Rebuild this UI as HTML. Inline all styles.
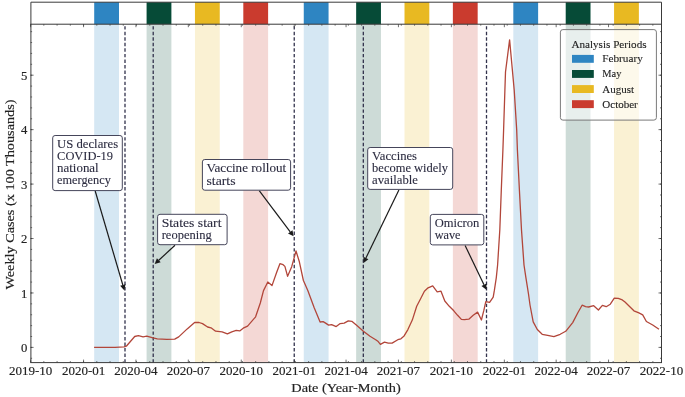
<!DOCTYPE html><html><head><meta charset="utf-8"><style>html,body{margin:0;padding:0;background:#fff;overflow:hidden}svg{display:block;will-change:transform}text{stroke-width:0.1px}text.t{stroke-width:0.16px}</style></head><body>
<svg width="685" height="397" viewBox="0 0 685 397">
<rect width="685" height="397" fill="#fff"/>
<rect x="94.20" y="24.2" width="24.8" height="338.40" fill="#d5e7f3"/>
<rect x="94.20" y="2.2" width="24.8" height="22.00" fill="#2e85c2"/>
<rect x="146.59" y="24.2" width="24.8" height="338.40" fill="#cddbd7"/>
<rect x="146.59" y="2.2" width="24.8" height="22.00" fill="#064b37"/>
<rect x="194.95" y="24.2" width="24.8" height="338.40" fill="#faf1d3"/>
<rect x="194.95" y="2.2" width="24.8" height="22.00" fill="#e8b922"/>
<rect x="243.31" y="24.2" width="24.8" height="338.40" fill="#f4d8d5"/>
<rect x="243.31" y="2.2" width="24.8" height="22.00" fill="#ca3b2e"/>
<rect x="303.76" y="24.2" width="24.8" height="338.40" fill="#d5e7f3"/>
<rect x="303.76" y="2.2" width="24.8" height="22.00" fill="#2e85c2"/>
<rect x="356.15" y="24.2" width="24.8" height="338.40" fill="#cddbd7"/>
<rect x="356.15" y="2.2" width="24.8" height="22.00" fill="#064b37"/>
<rect x="404.51" y="24.2" width="24.8" height="338.40" fill="#faf1d3"/>
<rect x="404.51" y="2.2" width="24.8" height="22.00" fill="#e8b922"/>
<rect x="452.87" y="24.2" width="24.8" height="338.40" fill="#f4d8d5"/>
<rect x="452.87" y="2.2" width="24.8" height="22.00" fill="#ca3b2e"/>
<rect x="513.32" y="24.2" width="24.8" height="338.40" fill="#d5e7f3"/>
<rect x="513.32" y="2.2" width="24.8" height="22.00" fill="#2e85c2"/>
<rect x="565.71" y="24.2" width="24.8" height="338.40" fill="#cddbd7"/>
<rect x="565.71" y="2.2" width="24.8" height="22.00" fill="#064b37"/>
<rect x="614.07" y="24.2" width="24.8" height="338.40" fill="#faf1d3"/>
<rect x="614.07" y="2.2" width="24.8" height="22.00" fill="#e8b922"/>
<line x1="125.00" y1="362.6" x2="125.00" y2="24.2" stroke="#32324c" stroke-width="1.3" stroke-dasharray="3.45 2.1"/>
<line x1="153.21" y1="362.6" x2="153.21" y2="24.2" stroke="#32324c" stroke-width="1.3" stroke-dasharray="3.45 2.1"/>
<line x1="294.24" y1="362.6" x2="294.24" y2="24.2" stroke="#32324c" stroke-width="1.3" stroke-dasharray="3.45 2.1"/>
<line x1="363.32" y1="362.6" x2="363.32" y2="24.2" stroke="#32324c" stroke-width="1.3" stroke-dasharray="3.45 2.1"/>
<line x1="486.51" y1="362.6" x2="486.51" y2="24.2" stroke="#32324c" stroke-width="1.3" stroke-dasharray="3.45 2.1"/>
<path d="M94.1 347.4 L115.0 347.3 L124.1 346.9 L126.3 346.2 L134.7 336.5 L138.4 335.6 L143.1 336.8 L146.8 336.1 L153.0 337.8 L157.3 338.9 L166.8 339.3 L174.7 339.1 L178.7 336.9 L187.2 328.9 L194.6 322.5 L199.1 322.5 L202.5 323.6 L207.6 327.0 L211.0 327.8 L215.6 331.2 L222.1 331.8 L227.4 333.9 L231.8 331.8 L236.2 330.4 L239.7 330.9 L243.2 328.2 L247.6 326.1 L255.6 316.8 L260.3 303.0 L263.5 290.6 L267.8 282.0 L272.0 285.6 L276.6 272.5 L279.9 263.7 L283.1 264.7 L284.9 266.4 L287.6 276.3 L291.7 266.7 L294.2 257.6 L296.0 251.0 L299.2 261.2 L303.4 280.5 L307.9 290.7 L314.3 307.9 L320.1 322.0 L323.1 321.6 L325.6 323.1 L328.6 325.1 L331.6 324.6 L336.2 326.6 L340.2 323.6 L344.2 323.1 L348.3 320.9 L351.8 321.3 L356.3 325.1 L363.4 331.2 L370.0 336.3 L375.7 339.7 L378.2 341.6 L380.4 344.3 L384.5 342.2 L388.3 343.2 L392.1 343.1 L397.8 339.7 L400.9 338.8 L404.1 335.9 L407.9 329.6 L412.3 320.1 L416.7 306.3 L420.6 298.7 L424.4 291.2 L428.1 287.8 L432.7 285.9 L437.2 291.9 L441.0 291.2 L444.8 301.0 L449.3 306.3 L453.8 310.8 L457.6 315.3 L461.4 319.4 L464.4 319.6 L468.8 319.2 L473.2 315.2 L477.6 312.1 L481.4 320.0 L483.9 310.2 L485.8 301.6 L489.6 302.4 L493.2 297.1 L494.4 290.2 L496.3 277.6 L497.6 265.0 L499.8 230.0 L501.3 190.0 L502.9 150.0 L503.6 130.0 L504.9 90.0 L505.5 72.0 L509.6 39.8 L514.2 90.0 L516.7 130.0 L517.4 150.0 L519.4 190.0 L521.5 230.0 L524.0 265.0 L525.9 277.6 L528.5 294.0 L530.0 305.0 L533.2 321.9 L537.3 329.5 L542.2 334.3 L547.7 335.4 L553.9 336.7 L560.2 334.3 L565.7 331.3 L572.7 322.6 L578.1 312.2 L582.1 305.2 L585.6 306.7 L588.6 307.0 L593.7 305.7 L598.4 310.0 L602.4 305.4 L606.2 306.7 L610.3 304.2 L614.3 298.1 L618.3 298.3 L622.3 299.9 L625.0 302.0 L628.8 305.7 L633.9 310.8 L638.9 312.9 L642.7 314.9 L646.4 321.5 L652.7 325.0 L659.0 329.3" fill="none" stroke="#b2463a" stroke-width="1.3" stroke-linejoin="round"/>
<path d="M30.60 362.6v-3M30.60 24.2v3M83.56 362.6v-3M83.56 24.2v3M135.94 362.6v-3M135.94 24.2v3M188.32 362.6v-3M188.32 24.2v3M241.28 362.6v-3M241.28 24.2v3M294.24 362.6v-3M294.24 24.2v3M346.05 362.6v-3M346.05 24.2v3M398.43 362.6v-3M398.43 24.2v3M451.39 362.6v-3M451.39 24.2v3M504.35 362.6v-3M504.35 24.2v3M556.16 362.6v-3M556.16 24.2v3M608.54 362.6v-3M608.54 24.2v3M661.50 362.6v-3M661.50 24.2v3M30.60 362.6v-1.5M30.60 24.2v1.5M43.84 362.6v-1.5M43.84 24.2v1.5M57.08 362.6v-1.5M57.08 24.2v1.5M70.32 362.6v-1.5M70.32 24.2v1.5M83.56 362.6v-1.5M83.56 24.2v1.5M96.80 362.6v-1.5M96.80 24.2v1.5M110.04 362.6v-1.5M110.04 24.2v1.5M123.28 362.6v-1.5M123.28 24.2v1.5M136.52 362.6v-1.5M136.52 24.2v1.5M149.76 362.6v-1.5M149.76 24.2v1.5M163.00 362.6v-1.5M163.00 24.2v1.5M176.24 362.6v-1.5M176.24 24.2v1.5M189.48 362.6v-1.5M189.48 24.2v1.5M202.72 362.6v-1.5M202.72 24.2v1.5M215.96 362.6v-1.5M215.96 24.2v1.5M229.20 362.6v-1.5M229.20 24.2v1.5M242.44 362.6v-1.5M242.44 24.2v1.5M255.67 362.6v-1.5M255.67 24.2v1.5M268.91 362.6v-1.5M268.91 24.2v1.5M282.15 362.6v-1.5M282.15 24.2v1.5M295.39 362.6v-1.5M295.39 24.2v1.5M308.63 362.6v-1.5M308.63 24.2v1.5M321.87 362.6v-1.5M321.87 24.2v1.5M335.11 362.6v-1.5M335.11 24.2v1.5M348.35 362.6v-1.5M348.35 24.2v1.5M361.59 362.6v-1.5M361.59 24.2v1.5M374.83 362.6v-1.5M374.83 24.2v1.5M388.07 362.6v-1.5M388.07 24.2v1.5M401.31 362.6v-1.5M401.31 24.2v1.5M414.55 362.6v-1.5M414.55 24.2v1.5M427.79 362.6v-1.5M427.79 24.2v1.5M441.03 362.6v-1.5M441.03 24.2v1.5M454.27 362.6v-1.5M454.27 24.2v1.5M467.51 362.6v-1.5M467.51 24.2v1.5M480.75 362.6v-1.5M480.75 24.2v1.5M493.99 362.6v-1.5M493.99 24.2v1.5M507.23 362.6v-1.5M507.23 24.2v1.5M520.47 362.6v-1.5M520.47 24.2v1.5M533.71 362.6v-1.5M533.71 24.2v1.5M546.95 362.6v-1.5M546.95 24.2v1.5M560.19 362.6v-1.5M560.19 24.2v1.5M573.43 362.6v-1.5M573.43 24.2v1.5M586.67 362.6v-1.5M586.67 24.2v1.5M599.91 362.6v-1.5M599.91 24.2v1.5M613.15 362.6v-1.5M613.15 24.2v1.5M626.39 362.6v-1.5M626.39 24.2v1.5M639.63 362.6v-1.5M639.63 24.2v1.5M652.87 362.6v-1.5M652.87 24.2v1.5M30.6 347.40h3M661.5 347.40h-3M30.6 292.96h3M661.5 292.96h-3M30.6 238.52h3M661.5 238.52h-3M30.6 184.08h3M661.5 184.08h-3M30.6 129.64h3M661.5 129.64h-3M30.6 75.20h3M661.5 75.20h-3M30.6 358.29h1.5M661.5 358.29h-1.5M30.6 347.40h1.5M661.5 347.40h-1.5M30.6 336.51h1.5M661.5 336.51h-1.5M30.6 325.62h1.5M661.5 325.62h-1.5M30.6 314.74h1.5M661.5 314.74h-1.5M30.6 303.85h1.5M661.5 303.85h-1.5M30.6 292.96h1.5M661.5 292.96h-1.5M30.6 282.07h1.5M661.5 282.07h-1.5M30.6 271.18h1.5M661.5 271.18h-1.5M30.6 260.30h1.5M661.5 260.30h-1.5M30.6 249.41h1.5M661.5 249.41h-1.5M30.6 238.52h1.5M661.5 238.52h-1.5M30.6 227.63h1.5M661.5 227.63h-1.5M30.6 216.74h1.5M661.5 216.74h-1.5M30.6 205.86h1.5M661.5 205.86h-1.5M30.6 194.97h1.5M661.5 194.97h-1.5M30.6 184.08h1.5M661.5 184.08h-1.5M30.6 173.19h1.5M661.5 173.19h-1.5M30.6 162.30h1.5M661.5 162.30h-1.5M30.6 151.42h1.5M661.5 151.42h-1.5M30.6 140.53h1.5M661.5 140.53h-1.5M30.6 129.64h1.5M661.5 129.64h-1.5M30.6 118.75h1.5M661.5 118.75h-1.5M30.6 107.86h1.5M661.5 107.86h-1.5M30.6 96.98h1.5M661.5 96.98h-1.5M30.6 86.09h1.5M661.5 86.09h-1.5M30.6 75.20h1.5M661.5 75.20h-1.5M30.6 64.31h1.5M661.5 64.31h-1.5M30.6 53.42h1.5M661.5 53.42h-1.5M30.6 42.54h1.5M661.5 42.54h-1.5M30.6 31.65h1.5M661.5 31.65h-1.5" stroke="#333" stroke-width="0.7" fill="none"/>
<rect x="30.9" y="24.2" width="630.60" height="338.40" fill="none" stroke="#3a3a3a" stroke-width="1.0"/>
<path d="M30.9 24.2V2.2H661.5V24.2" fill="none" stroke="#3a3a3a" stroke-width="1.0"/>
<line x1="95.2" y1="191.0" x2="122.82" y2="285.03" stroke="#1a1a1a" stroke-width="1.2"/>
<path d="M124.40 290.40L120.14 285.82L125.51 284.24Z" fill="#1a1a1a"/>
<line x1="175.0" y1="245.2" x2="158.80" y2="260.28" stroke="#1a1a1a" stroke-width="1.2"/>
<path d="M154.70 264.10L156.89 258.23L160.71 262.33Z" fill="#1a1a1a"/>
<line x1="259.2" y1="190.6" x2="290.23" y2="231.83" stroke="#1a1a1a" stroke-width="1.2"/>
<path d="M293.60 236.30L288.00 233.51L292.47 230.14Z" fill="#1a1a1a"/>
<line x1="398.9" y1="190.0" x2="365.94" y2="257.96" stroke="#1a1a1a" stroke-width="1.2"/>
<path d="M363.50 263.00L363.42 256.74L368.46 259.18Z" fill="#1a1a1a"/>
<line x1="465.1" y1="245.5" x2="483.97" y2="284.75" stroke="#1a1a1a" stroke-width="1.2"/>
<path d="M486.40 289.80L481.45 285.97L486.50 283.54Z" fill="#1a1a1a"/>
<rect x="52.7" y="135.5" width="69.60" height="55.10" rx="2.4" ry="2.4" fill="#fff" stroke="#45455a" stroke-width="1.0"/>
<text x="57.1" y="147.8" font-family="Liberation Serif, serif" font-size="12.0" fill="#2c2c40" stroke="#2c2c40" textLength="61.0" lengthAdjust="spacingAndGlyphs">US declares</text>
<text x="57.1" y="160.0" font-family="Liberation Serif, serif" font-size="12.0" fill="#2c2c40" stroke="#2c2c40" textLength="55.9" lengthAdjust="spacingAndGlyphs">COVID-19</text>
<text x="57.1" y="172.2" font-family="Liberation Serif, serif" font-size="12.0" fill="#2c2c40" stroke="#2c2c40" textLength="41.6" lengthAdjust="spacingAndGlyphs">national</text>
<text x="57.1" y="184.4" font-family="Liberation Serif, serif" font-size="12.0" fill="#2c2c40" stroke="#2c2c40" textLength="53.7" lengthAdjust="spacingAndGlyphs">emergency</text>
<rect x="157.6" y="214.3" width="69.50" height="30.40" rx="2.4" ry="2.4" fill="#fff" stroke="#45455a" stroke-width="1.0"/>
<text x="161.7" y="226.9" font-family="Liberation Serif, serif" font-size="12.0" fill="#2c2c40" stroke="#2c2c40" textLength="59.8" lengthAdjust="spacingAndGlyphs">States start</text>
<text x="161.7" y="239.1" font-family="Liberation Serif, serif" font-size="12.0" fill="#2c2c40" stroke="#2c2c40" textLength="50.0" lengthAdjust="spacingAndGlyphs">reopening</text>
<rect x="202.4" y="159.5" width="88.20" height="30.70" rx="2.4" ry="2.4" fill="#fff" stroke="#45455a" stroke-width="1.0"/>
<text x="206.5" y="172.3" font-family="Liberation Serif, serif" font-size="12.0" fill="#2c2c40" stroke="#2c2c40" textLength="79.7" lengthAdjust="spacingAndGlyphs">Vaccine rollout</text>
<text x="206.5" y="184.5" font-family="Liberation Serif, serif" font-size="12.0" fill="#2c2c40" stroke="#2c2c40" textLength="29.0" lengthAdjust="spacingAndGlyphs">starts</text>
<rect x="367.7" y="147.5" width="85.00" height="41.90" rx="2.4" ry="2.4" fill="#fff" stroke="#45455a" stroke-width="1.0"/>
<text x="372.1" y="160.0" font-family="Liberation Serif, serif" font-size="12.0" fill="#2c2c40" stroke="#2c2c40" textLength="44.9" lengthAdjust="spacingAndGlyphs">Vaccines</text>
<text x="372.1" y="172.3" font-family="Liberation Serif, serif" font-size="12.0" fill="#2c2c40" stroke="#2c2c40" textLength="76.0" lengthAdjust="spacingAndGlyphs">become widely</text>
<text x="372.1" y="184.4" font-family="Liberation Serif, serif" font-size="12.0" fill="#2c2c40" stroke="#2c2c40" textLength="45.8" lengthAdjust="spacingAndGlyphs">available</text>
<rect x="430.3" y="214.4" width="53.50" height="30.50" rx="2.4" ry="2.4" fill="#fff" stroke="#45455a" stroke-width="1.0"/>
<text x="434.7" y="227.0" font-family="Liberation Serif, serif" font-size="12.0" fill="#2c2c40" stroke="#2c2c40" textLength="44.6" lengthAdjust="spacingAndGlyphs">Omicron</text>
<text x="434.7" y="239.1" font-family="Liberation Serif, serif" font-size="12.0" fill="#2c2c40" stroke="#2c2c40" textLength="25.8" lengthAdjust="spacingAndGlyphs">wave</text>
<rect x="560.4" y="29.6" width="96.0" height="90.5" rx="2.5" ry="2.5" fill="#fff" fill-opacity="0.55" stroke="#7a7a7a" stroke-width="1"/>
<text x="571.4" y="48.0" font-family="Liberation Serif, serif" font-size="11.0" fill="#222" stroke="#222" textLength="75.2" lengthAdjust="spacingAndGlyphs">Analysis Periods</text>
<rect x="572.0" y="54.9" width="21.8" height="7.9" fill="#2e85c2"/>
<text x="602.3" y="62.3" font-family="Liberation Serif, serif" font-size="10.8" fill="#222" stroke="#222" textLength="40.5" lengthAdjust="spacingAndGlyphs">February</text>
<rect x="572.0" y="70.0" width="21.8" height="7.9" fill="#064b37"/>
<text x="602.3" y="77.4" font-family="Liberation Serif, serif" font-size="10.8" fill="#222" stroke="#222" textLength="19.1" lengthAdjust="spacingAndGlyphs">May</text>
<rect x="572.0" y="85.1" width="21.8" height="7.9" fill="#e8b922"/>
<text x="602.3" y="92.5" font-family="Liberation Serif, serif" font-size="10.8" fill="#222" stroke="#222" textLength="31.7" lengthAdjust="spacingAndGlyphs">August</text>
<rect x="572.0" y="100.2" width="21.8" height="7.9" fill="#ca3b2e"/>
<text x="602.3" y="107.6" font-family="Liberation Serif, serif" font-size="10.8" fill="#222" stroke="#222" textLength="35.5" lengthAdjust="spacingAndGlyphs">October</text>
<text x="30.60" y="375.3" font-family="Liberation Serif, serif" class="t" font-size="13.0" fill="#222" stroke="#222" text-anchor="middle">2019-10</text>
<text x="83.56" y="375.3" font-family="Liberation Serif, serif" class="t" font-size="13.0" fill="#222" stroke="#222" text-anchor="middle">2020-01</text>
<text x="135.94" y="375.3" font-family="Liberation Serif, serif" class="t" font-size="13.0" fill="#222" stroke="#222" text-anchor="middle">2020-04</text>
<text x="188.32" y="375.3" font-family="Liberation Serif, serif" class="t" font-size="13.0" fill="#222" stroke="#222" text-anchor="middle">2020-07</text>
<text x="241.28" y="375.3" font-family="Liberation Serif, serif" class="t" font-size="13.0" fill="#222" stroke="#222" text-anchor="middle">2020-10</text>
<text x="294.24" y="375.3" font-family="Liberation Serif, serif" class="t" font-size="13.0" fill="#222" stroke="#222" text-anchor="middle">2021-01</text>
<text x="346.05" y="375.3" font-family="Liberation Serif, serif" class="t" font-size="13.0" fill="#222" stroke="#222" text-anchor="middle">2021-04</text>
<text x="398.43" y="375.3" font-family="Liberation Serif, serif" class="t" font-size="13.0" fill="#222" stroke="#222" text-anchor="middle">2021-07</text>
<text x="451.39" y="375.3" font-family="Liberation Serif, serif" class="t" font-size="13.0" fill="#222" stroke="#222" text-anchor="middle">2021-10</text>
<text x="504.35" y="375.3" font-family="Liberation Serif, serif" class="t" font-size="13.0" fill="#222" stroke="#222" text-anchor="middle">2022-01</text>
<text x="556.16" y="375.3" font-family="Liberation Serif, serif" class="t" font-size="13.0" fill="#222" stroke="#222" text-anchor="middle">2022-04</text>
<text x="608.54" y="375.3" font-family="Liberation Serif, serif" class="t" font-size="13.0" fill="#222" stroke="#222" text-anchor="middle">2022-07</text>
<text x="661.50" y="375.3" font-family="Liberation Serif, serif" class="t" font-size="13.0" fill="#222" stroke="#222" text-anchor="middle">2022-10</text>
<text x="27.4" y="352.00" font-family="Liberation Serif, serif" class="t" font-size="12.7" fill="#222" stroke="#222" text-anchor="end">0</text>
<text x="27.4" y="297.56" font-family="Liberation Serif, serif" class="t" font-size="12.7" fill="#222" stroke="#222" text-anchor="end">1</text>
<text x="27.4" y="243.12" font-family="Liberation Serif, serif" class="t" font-size="12.7" fill="#222" stroke="#222" text-anchor="end">2</text>
<text x="27.4" y="188.68" font-family="Liberation Serif, serif" class="t" font-size="12.7" fill="#222" stroke="#222" text-anchor="end">3</text>
<text x="27.4" y="134.24" font-family="Liberation Serif, serif" class="t" font-size="12.7" fill="#222" stroke="#222" text-anchor="end">4</text>
<text x="27.4" y="79.80" font-family="Liberation Serif, serif" class="t" font-size="12.7" fill="#222" stroke="#222" text-anchor="end">5</text>
<text x="346" y="391.5" font-family="Liberation Serif, serif" class="t" font-size="12.8" fill="#222" stroke="#222" text-anchor="middle" textLength="109.4" lengthAdjust="spacingAndGlyphs">Date (Year-Month)</text>
<text transform="translate(13.9 194.5) rotate(-90)" x="0" y="0" font-family="Liberation Serif, serif" class="t" font-size="12.9" fill="#222" stroke="#222" text-anchor="middle" textLength="190" lengthAdjust="spacingAndGlyphs">Weekly Cases (x 100 Thousands)</text>
</svg></body></html>
